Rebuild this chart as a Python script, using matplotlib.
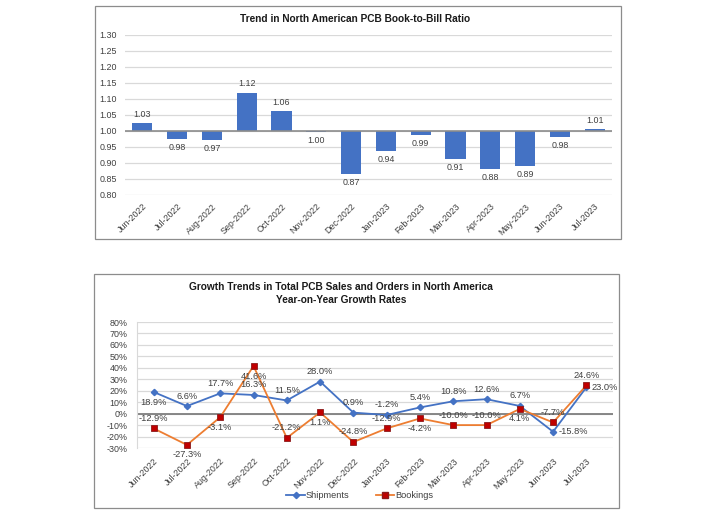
import matplotlib
matplotlib.use("Agg")
import matplotlib.pyplot as plt
from matplotlib.patches import Rectangle
from matplotlib.lines import Line2D

plt.rcParams['font.family'] = ['Liberation Sans', 'DejaVu Sans']

months = ["Jun-2022", "Jul-2022", "Aug-2022", "Sep-2022", "Oct-2022", "Nov-2022",
          "Dec-2022", "Jan-2023", "Feb-2023", "Mar-2023", "Apr-2023", "May-2023",
          "Jun-2023", "Jul-2023"]
book_to_bill = [1.026, 0.976, 0.972, 1.12, 1.063, 0.998, 0.866, 0.937, 0.987,
                0.913, 0.881, 0.892, 0.982, 1.006]
shipments = [18.9, 6.6, 17.7, 16.3, 11.5, 28.0, 0.9, -1.2, 5.4, 10.8, 12.6, 6.7, -15.8, 23.0]
bookings = [-12.9, -27.3, -3.1, 41.6, -21.2, 1.1, -24.8, -12.9, -4.2, -10.0, -10.0, 4.1, -7.7, 24.6]
ship_label_pos = ["below", "above", "above", "above", "above", "above", "above",
                  "above", "above", "above", "above", "above", "right", "right"]
book_label_pos = ["above", "below", "below", "below", "above", "below", "above",
                  "above", "below", "above", "above", "below", "above", "above"]

W, H = 710, 513
fig = plt.figure(figsize=(W / 100, H / 100), dpi=100)
fig.patch.set_facecolor("white")

def fr(x0, y0, x1, y1):
    return [x0 / W, 1 - y1 / H, (x1 - x0) / W, (y1 - y0) / H]

# panel boxes
for (x0, y0, x1, y1) in [(95, 6, 621, 239), (94, 274, 619, 508)]:
    fig.patches.append(Rectangle((x0 / W, 1 - y1 / H), (x1 - x0) / W, (y1 - y0) / H,
                                 transform=fig.transFigure, fill=False,
                                 edgecolor="#8c8c8c", linewidth=0.9))

txt = "#404040"
grid_c = "#d9d9d9"
fs = 6.4

# ---------------- top chart ----------------
ax1 = fig.add_axes(fr(125, 35, 612, 195))
x = list(range(len(months)))
base = 1.0
heights = [v - base for v in book_to_bill]
ax1.bar(x, heights, bottom=base, width=0.58, color="#4472C4", zorder=3)
ax1.set_ylim(0.80, 1.30)
ax1.set_xlim(-0.5, len(months) - 0.5)
yt = [0.80 + 0.05 * i for i in range(11)]
ax1.set_yticks(yt)
ax1.set_yticklabels([f"{v:.2f}" for v in yt], fontsize=fs, color=txt)
ax1.set_xticks(x)
ax1.set_xticklabels(months, rotation=45, ha="right", rotation_mode="anchor",
                    fontsize=fs, color=txt)
ax1.tick_params(length=0, pad=6)
ax1.tick_params(axis="x", pad=5)
ax1.grid(axis="y", color=grid_c, linewidth=0.9, zorder=0)
ax1.axhline(base, color="#8c8c8c", linewidth=1.2, zorder=4)
for s in ax1.spines.values():
    s.set_visible(False)
for xi, v in zip(x, book_to_bill):
    if v > base:
        ax1.annotate(f"{v:.2f}", (xi, v), xytext=(0, 3), textcoords="offset points",
                     ha="center", va="bottom", fontsize=fs, color=txt)
    else:
        ax1.annotate(f"{v:.2f}", (xi, v), xytext=(0, -3), textcoords="offset points",
                     ha="center", va="top", fontsize=fs, color=txt)
fig.text(355 / W, 1 - 19 / H, "Trend in North American PCB Book-to-Bill Ratio",
         ha="center", va="center", fontsize=7.3, fontweight="bold", color="#1a1a1a")

# ---------------- bottom chart ----------------
ax2 = fig.add_axes(fr(137, 322, 613, 448))
ax2.plot(x, shipments, color="#4472C4", linewidth=1.3, marker="D", markersize=3.2,
         markerfacecolor="#4472C4", markeredgecolor="#4472C4", zorder=4, label="Shipments")
ax2.plot(x, bookings, color="#ED7D31", linewidth=1.3, marker="s", markersize=5,
         markerfacecolor="#C00000", markeredgecolor="#8B1A1A", markeredgewidth=0.6,
         zorder=5, label="Bookings")
ax2.set_ylim(-30, 80)
ax2.set_xlim(-0.5, len(months) - 0.2)
yt2 = list(range(-30, 90, 10))
ax2.set_yticks(yt2)
ax2.set_yticklabels([f"{v}%" for v in yt2], fontsize=fs, color=txt)
ax2.set_xticks(x)
ax2.set_xticklabels(months, rotation=45, ha="right", rotation_mode="anchor",
                    fontsize=fs, color=txt)
ax2.tick_params(length=0, pad=7)
ax2.tick_params(axis="x", pad=6)
ax2.grid(axis="y", color=grid_c, linewidth=0.9, zorder=0)
ax2.axhline(0, color="#7f7f7f", linewidth=1.3, zorder=2)
for name, s in ax2.spines.items():
    s.set_visible(name == "left")
ax2.spines["left"].set_color(grid_c)

def place(series, positions):
    for xi, v, p in zip(x, series, positions):
        if p == "above":
            off, ha, va = (0, 4), "center", "bottom"
        elif p == "below":
            off, ha, va = (0, -4), "center", "top"
        else:
            off, ha, va = (4, 0), "left", "center"
        ax2.annotate(f"{v:.1f}%", (xi, v), xytext=off, textcoords="offset points",
                     ha=ha, va=va, fontsize=fs + 0.3, color=txt, zorder=6)

place(shipments, ship_label_pos)
place(bookings, book_label_pos)

fig.text(341 / W, 1 - 287 / H, "Growth Trends in Total PCB Sales and Orders in North America",
         ha="center", va="center", fontsize=7.3, fontweight="bold", color="#1a1a1a")
fig.text(341 / W, 1 - 300 / H, "Year-on-Year Growth Rates",
         ha="center", va="center", fontsize=7.3, fontweight="bold", color="#1a1a1a")

handles = [Line2D([], [], color="#4472C4", linewidth=1.3, marker="D", markersize=3.2),
           Line2D([], [], color="#ED7D31", linewidth=1.3, marker="s", markersize=5,
                  markerfacecolor="#C00000", markeredgecolor="#8B1A1A")]
fig.legend(handles, ["Shipments", "Bookings"], loc="center",
           bbox_to_anchor=(360 / W, 1 - 496 / H), ncol=2, frameon=False,
           fontsize=fs + 0.3, handlelength=2.0, columnspacing=2.8, handletextpad=0.1,
           labelcolor=txt)

fig.savefig("out.png", dpi=100, facecolor="white")
